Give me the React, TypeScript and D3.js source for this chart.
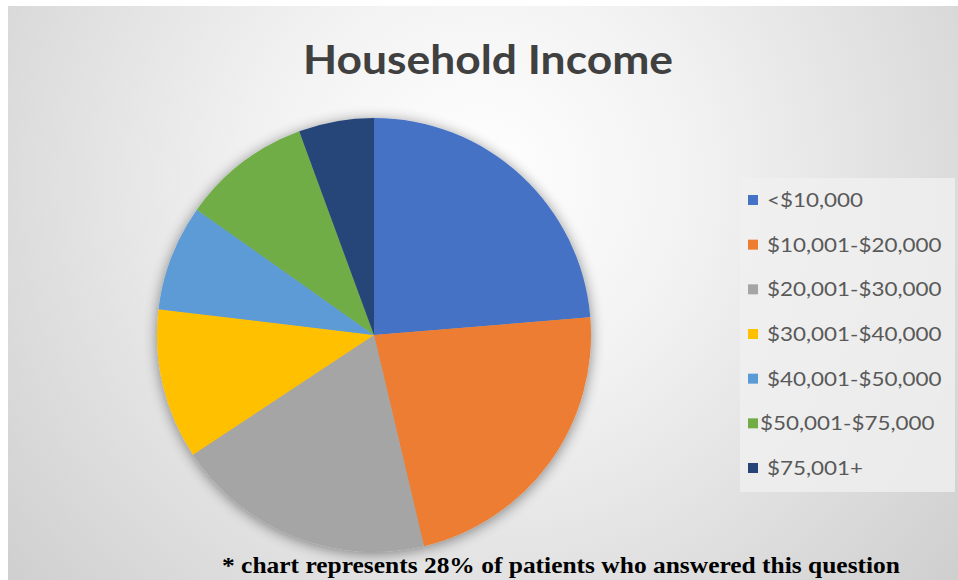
import { useEffect, useRef } from 'react';
import * as d3 from 'd3';

const categories = [
  '<$10,000',
  '$10,001-$20,000',
  '$20,001-$30,000',
  '$30,001-$40,000',
  '$40,001-$50,000',
  '$50,001-$75,000',
  '$75,001+',
];
const shares = [23.7, 22.6, 19.4, 11.2, 7.9, 9.6, 5.6];
const colors = ['#4472C4', '#ED7D31', '#A5A5A5', '#FFC000', '#5B9BD5', '#70AD47', '#264478'];

export default function App() {
  const svgRef = useRef<SVGSVGElement>(null);

  useEffect(() => {
    if (!svgRef.current) return;
    const svg = d3.select(svgRef.current);
    svg.selectAll('*').remove();

    const W = 958, H = 580;
    const defs = svg.append('defs');
    const grad = defs.append('radialGradient')
      .attr('id', 'bg').attr('gradientUnits', 'userSpaceOnUse')
      .attr('cx', 480).attr('cy', 180).attr('r', 620);
    grad.append('stop').attr('offset', '0%').attr('stop-color', '#ffffff');
    grad.append('stop').attr('offset', '35%').attr('stop-color', '#f2f2f2');
    grad.append('stop').attr('offset', '100%').attr('stop-color', '#cfcfcf');

    const shadow = defs.append('filter').attr('id', 'shadow')
      .attr('x', '-20%').attr('y', '-20%').attr('width', '140%').attr('height', '140%');
    shadow.append('feGaussianBlur').attr('in', 'SourceAlpha').attr('stdDeviation', 7);
    shadow.append('feOffset').attr('dx', 0).attr('dy', 2).attr('result', 'b');
    shadow.append('feComponentTransfer').append('feFuncA').attr('type', 'linear').attr('slope', 0.45);
    const merge = shadow.append('feMerge');
    merge.append('feMergeNode');
    merge.append('feMergeNode').attr('in', 'SourceGraphic');

    svg.append('rect').attr('width', W).attr('height', H).attr('fill', '#ffffff');
    svg.append('rect').attr('x', 8).attr('y', 6).attr('width', W - 8).attr('height', H - 6)
      .attr('fill', 'url(#bg)');

    svg.append('text')
      .attr('x', 488).attr('y', 74)
      .attr('text-anchor', 'middle')
      .attr('font-family', 'Lato, "Open Sans", sans-serif')
      .attr('font-weight', 'bold')
      .attr('font-size', 41)
      .attr('fill', '#404040')
      .attr('textLength', 370)
      .attr('lengthAdjust', 'spacingAndGlyphs')
      .text('Household Income');

    const cx = 374, cy = 335, r = 217;
    const pie = d3.pie<number>().sort(null).value(d => d);
    const arc = d3.arc<d3.PieArcDatum<number>>().innerRadius(0).outerRadius(r);

    const g = svg.append('g').attr('transform', `translate(${cx},${cy})`).attr('filter', 'url(#shadow)');
    g.selectAll('path')
      .data(pie(shares))
      .join('path')
      .attr('d', arc)
      .attr('fill', (_, i) => colors[i]);

    const legend = svg.append('g');
    legend.append('rect')
      .attr('x', 740).attr('y', 178).attr('width', 215).attr('height', 314)
      .attr('fill', '#f0f0f0').attr('opacity', 0.8);

    const ly = d3.scalePoint<string>().domain(categories).range([200, 468]);
    const items = legend.selectAll('g.item')
      .data(categories)
      .join('g')
      .attr('class', 'item')
      .attr('transform', d => `translate(0,${ly(d)})`);
    items.append('rect')
      .attr('x', 748).attr('y', -5).attr('width', 10).attr('height', 10)
      .attr('fill', (_, i) => colors[i]);
    items.append('text')
      .attr('x', (_, i) => (i === 5 ? 760 : 767))
      .attr('y', 7)
      .attr('font-family', 'Lato, "Open Sans", sans-serif')
      .attr('font-size', 19)
      .attr('fill', '#595959')
      .text(d => d)
      .each(function () {
        const t = this as SVGTextElement;
        const w = t.getComputedTextLength();
        t.setAttribute('textLength', String(w * 1.18));
        t.setAttribute('lengthAdjust', 'spacingAndGlyphs');
      });

    svg.append('text')
      .attr('x', 561).attr('y', 573)
      .attr('text-anchor', 'middle')
      .attr('font-family', '"Liberation Serif", "Times New Roman", serif')
      .attr('font-weight', 'bold')
      .attr('font-size', 23)
      .attr('fill', '#000')
      .attr('textLength', 678)
      .attr('lengthAdjust', 'spacingAndGlyphs')
      .text('* chart represents 28% of patients who answered this question');
  }, []);

  return (
    <svg ref={svgRef} width={958} height={580}
      style={{ position: 'absolute', left: 0, top: 0, display: 'block' }} />
  );
}
